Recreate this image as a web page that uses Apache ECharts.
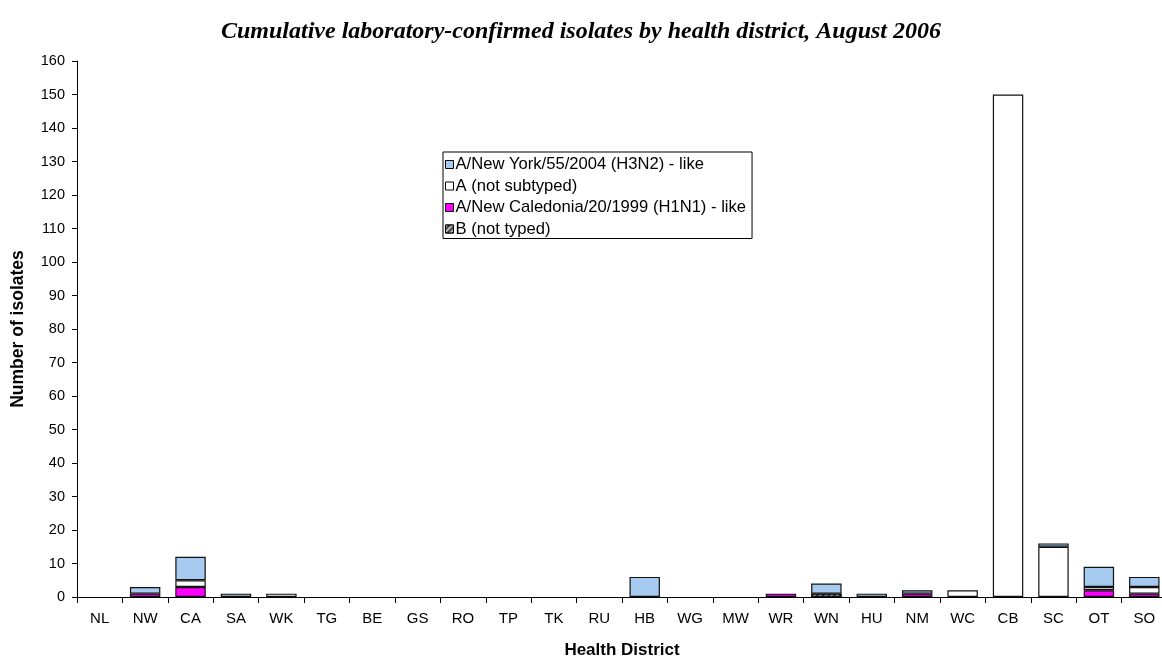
<!DOCTYPE html>
<html style="height: 100%">
<head>
    <meta charset="utf-8">
    <title>Isolates by health district</title>
</head>
<body style="height: 100%; margin: 0">
    <div id="container" style="width: 1162px; height: 659px"></div>
    <script type="text/javascript" src="https://cdn.jsdelivr.net/npm/echarts@6/dist/echarts.min.js"></script>
    <script type="text/javascript">
        var districts = ['NL', 'NW', 'CA', 'SA', 'WK', 'TG', 'BE', 'GS', 'RO', 'TP', 'TK', 'RU',
                         'HB', 'WG', 'MW', 'WR', 'WN', 'HU', 'NM', 'WC', 'CB', 'SC', 'OT', 'SO'];
        // stacked bottom to top: B, H1N1, A (not subtyped), H3N2
        var bNotTyped   = [0, 0, 0, 0, 0, 0, 0, 0, 0, 0, 0, 0, 0, 0, 0, 0, 1, 0, 0, 0, 0,   0, 0, 0];
        var h1n1Like    = [0, 1, 3, 0, 0, 0, 0, 0, 0, 0, 0, 0, 0, 0, 0, 1, 0, 0, 1, 0, 0,   0, 2, 1];
        var aNotSub     = [0, 0, 2, 0, 1, 0, 0, 0, 0, 0, 0, 0, 0, 0, 0, 0, 0, 0, 0, 2, 150, 15, 1, 2];
        var h3n2Like    = [0, 2, 7, 1, 0, 0, 0, 0, 0, 0, 0, 0, 6, 0, 0, 0, 3, 1, 1, 0, 0,   1, 6, 3];

        var names = {
            h3n2: 'A/New York/55/2004 (H3N2) - like',
            anot: 'A (not subtyped)',
            h1n1: 'A/New Caledonia/20/1999 (H1N1) - like',
            b:    'B (not typed)'
        };

        function clean(arr) {
            return arr.map(function (v) { return v === 0 ? '-' : v; });
        }

        function barSeries(name, data, color, decal) {
            var style = {color: color, borderColor: '#111', borderWidth: 1.2};
            if (decal) style.decal = decal;
            return {
                name:  name,
                type:  'bar',
                stack: 'all',
                barCategoryGap: '33%',
                itemStyle: style,
                data:  clean(data)
            };
        }

        var dom     = document.getElementById('container');
        var myChart = echarts.init(dom, null, {renderer: 'canvas'});

        var font = 'Liberation Sans, Arial, sans-serif';

        var option = {
            backgroundColor: '#fff',
            animation: false,
            title: {
                text: 'Cumulative laboratory-confirmed isolates by health district, August 2006',
                left: 'center',
                top: 15,
                textStyle: {
                    fontFamily: 'Liberation Serif, Times New Roman, serif',
                    fontStyle: 'italic',
                    fontWeight: 'bold',
                    fontSize: 24,
                    color: '#000'
                }
            },
            legend: {
                orient: 'vertical',
                left: 443,
                top: 152,
                padding: [4, 6, 1, 2],
                itemWidth: 8,
                itemHeight: 8,
                itemGap: 4.5,
                backgroundColor: '#fff',
                borderColor: '#000',
                borderWidth: 1,
                borderRadius: 0,
                icon: 'rect',
                selectedMode: false,
                textStyle: {fontFamily: font, fontSize: 16.6, color: '#000', padding: [0, 0, 0, -3]},
                itemStyle: {borderColor: '#000', borderWidth: 1},
                data: [names.h3n2, names.anot, names.h1n1, names.b]
            },
            grid: {
                left: 77,
                right: -5,
                top: 61,
                bottom: 62,
                outerBoundsMode: 'none',
                containLabel: false
            },
            xAxis: {
                type: 'category',
                data: districts,
                name: 'Health District',
                nameLocation: 'middle',
                nameGap: 45,
                nameTextStyle: {fontFamily: font, fontSize: 17, fontWeight: 'bold', color: '#000'},
                axisLine: {lineStyle: {color: '#000', width: 1}},
                axisTick: {show: true, length: 6, lineStyle: {color: '#000'}},
                axisLabel: {fontFamily: font, fontSize: 15, color: '#000', margin: 14, interval: 0}
            },
            yAxis: {
                type: 'value',
                min: 0,
                max: 160,
                interval: 10,
                name: 'Number of isolates',
                nameLocation: 'middle',
                nameGap: 50,
                nameTextStyle: {fontFamily: font, fontSize: 17.5, fontWeight: 'bold', color: '#000'},
                axisLine: {show: true, lineStyle: {color: '#000', width: 1}},
                axisTick: {show: true, length: 5, lineStyle: {color: '#000'}},
                axisLabel: {fontFamily: font, fontSize: 14.5, color: '#000', margin: 12},
                splitLine: {show: false}
            },
            series: [
                barSeries(names.b, bNotTyped, '#444', {
                    symbol: 'rect',
                    color: 'rgba(255,255,255,0.6)',
                    dashArrayX: [1, 0],
                    dashArrayY: [1.5, 2],
                    rotation: -Math.PI / 4
                }),
                barSeries(names.h1n1, h1n1Like, '#ff00ff'),
                barSeries(names.anot, aNotSub, '#ffffff'),
                barSeries(names.h3n2, h3n2Like, '#a6caf0')
            ]
        };

        myChart.setOption(option, true);
    </script>
</body>
</html>
